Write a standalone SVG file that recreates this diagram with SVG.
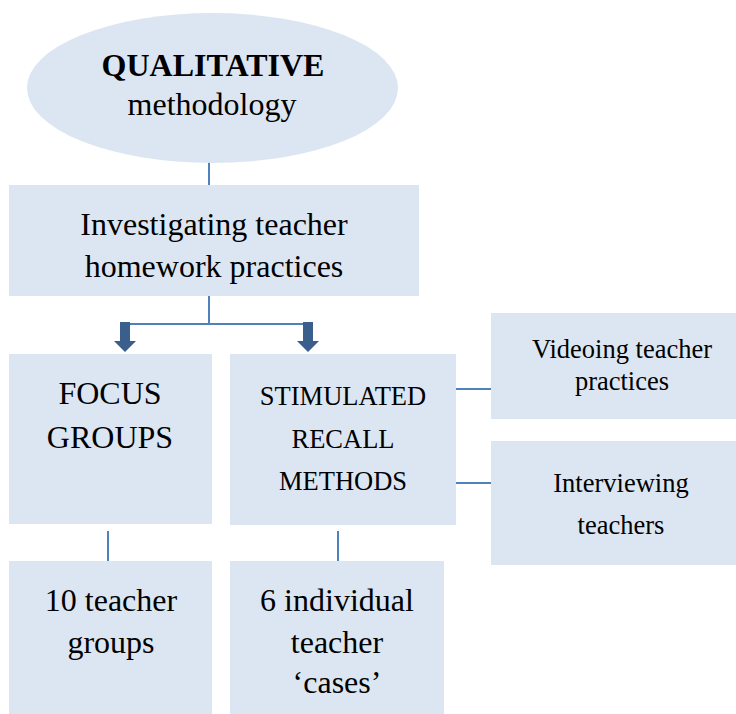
<svg xmlns="http://www.w3.org/2000/svg" width="736" height="714" viewBox="0 0 736 714">
<style>
.box{fill:#DCE6F2}
.t{font-family:"Liberation Serif","Times New Roman",serif;fill:#000;text-anchor:middle}
.l{font-size:32px}
.m{font-size:26.5px}
.c{stroke:#4F81BD;stroke-width:2;fill:none}
.a{fill:#3A5F8D}
</style>
<rect width="736" height="714" fill="#fff"/>
<g id="connectors">
<line class="c" x1="209" y1="160" x2="209" y2="185"/>
<line class="c" x1="209" y1="295" x2="209" y2="324"/>
<line class="c" x1="125" y1="324" x2="308" y2="324"/>
<polygon class="a" points="120,322 130,322 130,341 136,341 125,352 114,341 120,341"/>
<polygon class="a" points="303,322 313,322 313,341 319,341 308,352 297,341 303,341"/>
<line class="c" x1="454" y1="389" x2="494" y2="389"/>
<line class="c" x1="454" y1="483" x2="494" y2="483"/>
<line class="c" x1="108" y1="531" x2="108" y2="561"/>
<line class="c" x1="338" y1="531" x2="338" y2="561"/>
</g>
<g id="qualitative">
<ellipse class="box" cx="212.5" cy="88" rx="185.5" ry="75"/>
<text class="t l" x="213" y="76" font-weight="bold">QUALITATIVE</text>
<text class="t l" x="212" y="115">methodology</text>
</g>
<g id="investigating">
<rect class="box" x="9" y="185" width="410" height="111"/>
<text class="t l" x="214" y="235">Investigating teacher</text>
<text class="t l" x="214" y="277">homework practices</text>
</g>
<g id="focus">
<rect class="box" x="9" y="354" width="203" height="170"/>
<text class="t l" x="110" y="404">FOCUS</text>
<text class="t l" x="110" y="448">GROUPS</text>
</g>
<g id="stimulated">
<rect class="box" x="230" y="354" width="226" height="171"/>
<text class="t m" x="343" y="405">STIMULATED</text>
<text class="t m" x="343" y="448">RECALL</text>
<text class="t m" x="343" y="490">METHODS</text>
</g>
<g id="videoing">
<rect class="box" x="491" y="313" width="245" height="106"/>
<text class="t m" x="622" y="358">Videoing teacher</text>
<text class="t m" x="622" y="390">practices</text>
</g>
<g id="interviewing">
<rect class="box" x="491" y="441" width="245" height="124"/>
<text class="t m" x="621" y="492">Interviewing</text>
<text class="t m" x="621" y="534">teachers</text>
</g>
<g id="groups">
<rect class="box" x="9" y="561" width="203" height="153"/>
<text class="t l" x="111" y="611">10 teacher</text>
<text class="t l" x="111" y="653">groups</text>
</g>
<g id="cases">
<rect class="box" x="230" y="561" width="214" height="153"/>
<text class="t l" x="337" y="611">6 individual</text>
<text class="t l" x="337" y="653">teacher</text>
<text class="t l" x="337" y="693">‘cases’</text>
</g>
</svg>
